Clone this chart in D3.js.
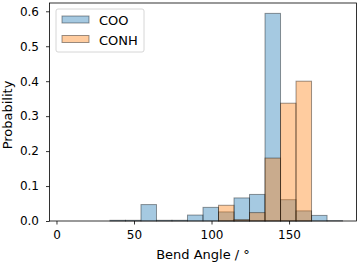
<!DOCTYPE html>
<html>
<head>
<meta charset="utf-8">
<script src="https://cdn.jsdelivr.net/npm/d3@7"></script>
<style>
  body { margin: 0; background: #fff; }
  text { font-family: "DejaVu Sans", sans-serif; }
</style>
</head>
<body>
<div id="vis"></div>
<script>
// bin edges (degrees), 18 bins of width 10
const EDGES = [4.5, 14.5, 24.5, 34.5, 44.5, 54.5, 64.5, 74.5, 84.5, 94.5, 104.5, 114.5, 124.5, 134.5, 144.5, 154.5, 164.5, 174.5, 184.5];
const COO = [0, 0, 0, 0.002, 0.002, 0.047, 0.002, 0.002, 0.017, 0.039, 0.026, 0.066, 0.076, 0.594, 0.061, 0.029, 0.016, 0.001];
const CONH = [0, 0, 0, 0, 0, 0, 0, 0, 0, 0, 0.045, 0.004, 0.024, 0.180, 0.337, 0.400, 0, 0];
const X_TICKS = [0, 50, 100, 150];
const Y_TICKS = [0, 0.1, 0.2, 0.3, 0.4, 0.5, 0.6];

const WIDTH = 360;
const HEIGHT = 264;
const mLeft = 49.5, mRight = 356.5, mTop = 3, mBottom = 221;

const SVG = d3.select("#vis").append("svg").attr("width", WIDTH).attr("height", HEIGHT);

const pad = (EDGES[EDGES.length - 1] - EDGES[0]) * 0.05;
const x = d3.scaleLinear().domain([EDGES[0] - pad, EDGES[EDGES.length - 1] + pad]).range([mLeft, mRight]);
const ymax = d3.max(COO.concat(CONH)) * 1.05;
const y = d3.scaleLinear().domain([0, ymax]).range([mBottom, mTop]);

const series = [
  { name: "COO", values: COO, color: "#1f77b4" },
  { name: "CONH", values: CONH, color: "#ff7f0e" }
];

series.forEach(s => {
  SVG.append("g").selectAll("rect")
    .data(s.values)
    .enter()
    .append("rect")
    .attr("x", (d, i) => x(EDGES[i]))
    .attr("width", (d, i) => x(EDGES[i + 1]) - x(EDGES[i]))
    .attr("y", d => y(d))
    .attr("height", d => y(0) - y(d))
    .attr("fill", s.color)
    .attr("fill-opacity", 0.4)
    .attr("stroke", "#000")
    .attr("stroke-opacity", 0.4)
    .attr("stroke-width", 1);
});

// axes
const xAxis = SVG.append("g").attr("transform", `translate(0,${mBottom})`)
  .call(d3.axisBottom(x).tickValues(X_TICKS).tickSize(3.5).tickPadding(5.5).tickFormat(d3.format("d")));
const yAxis = SVG.append("g").attr("transform", `translate(${mLeft},0)`)
  .call(d3.axisLeft(y).tickValues(Y_TICKS).tickSize(3.5).tickPadding(7).tickFormat(d3.format(".1f")));
[xAxis, yAxis].forEach(a => {
  a.select(".domain").remove();
  a.selectAll("text").attr("font-size", "12px").attr("fill", "#000").style("font-family", "DejaVu Sans");
  a.selectAll("line").attr("stroke", "#000").attr("stroke-width", 0.8);
});

// frame
SVG.append("rect").attr("x", mLeft).attr("y", mTop).attr("width", mRight - mLeft).attr("height", mBottom - mTop)
  .attr("fill", "none").attr("stroke", "#000").attr("stroke-width", 0.8);

SVG.append("text").attr("x", 203).attr("y", 259).attr("text-anchor", "middle")
  .attr("font-size", "13px").text("Bend Angle / °");
SVG.append("text").attr("transform", `translate(12,${(mTop + mBottom) / 2 + 3}) rotate(-90)`).attr("text-anchor", "middle")
  .attr("font-size", "13px").text("Probability");

// legend
const legend = SVG.append("g").attr("transform", "translate(56,9)");
legend.append("rect").attr("width", 88).attr("height", 43).attr("rx", 2)
  .attr("fill", "#fff").attr("fill-opacity", 0.8).attr("stroke", "#ccc").attr("stroke-width", 0.8);
series.forEach((s, i) => {
  legend.append("rect").attr("x", 6).attr("y", 7 + i * 19.5).attr("width", 27).attr("height", 7)
    .attr("fill", s.color).attr("fill-opacity", 0.4).attr("stroke", "#000").attr("stroke-opacity", 0.4);
  legend.append("text").attr("x", 43).attr("y", 16 + i * 19.5).attr("font-size", "13px").text(s.name);
});
</script>
</body>
</html>
